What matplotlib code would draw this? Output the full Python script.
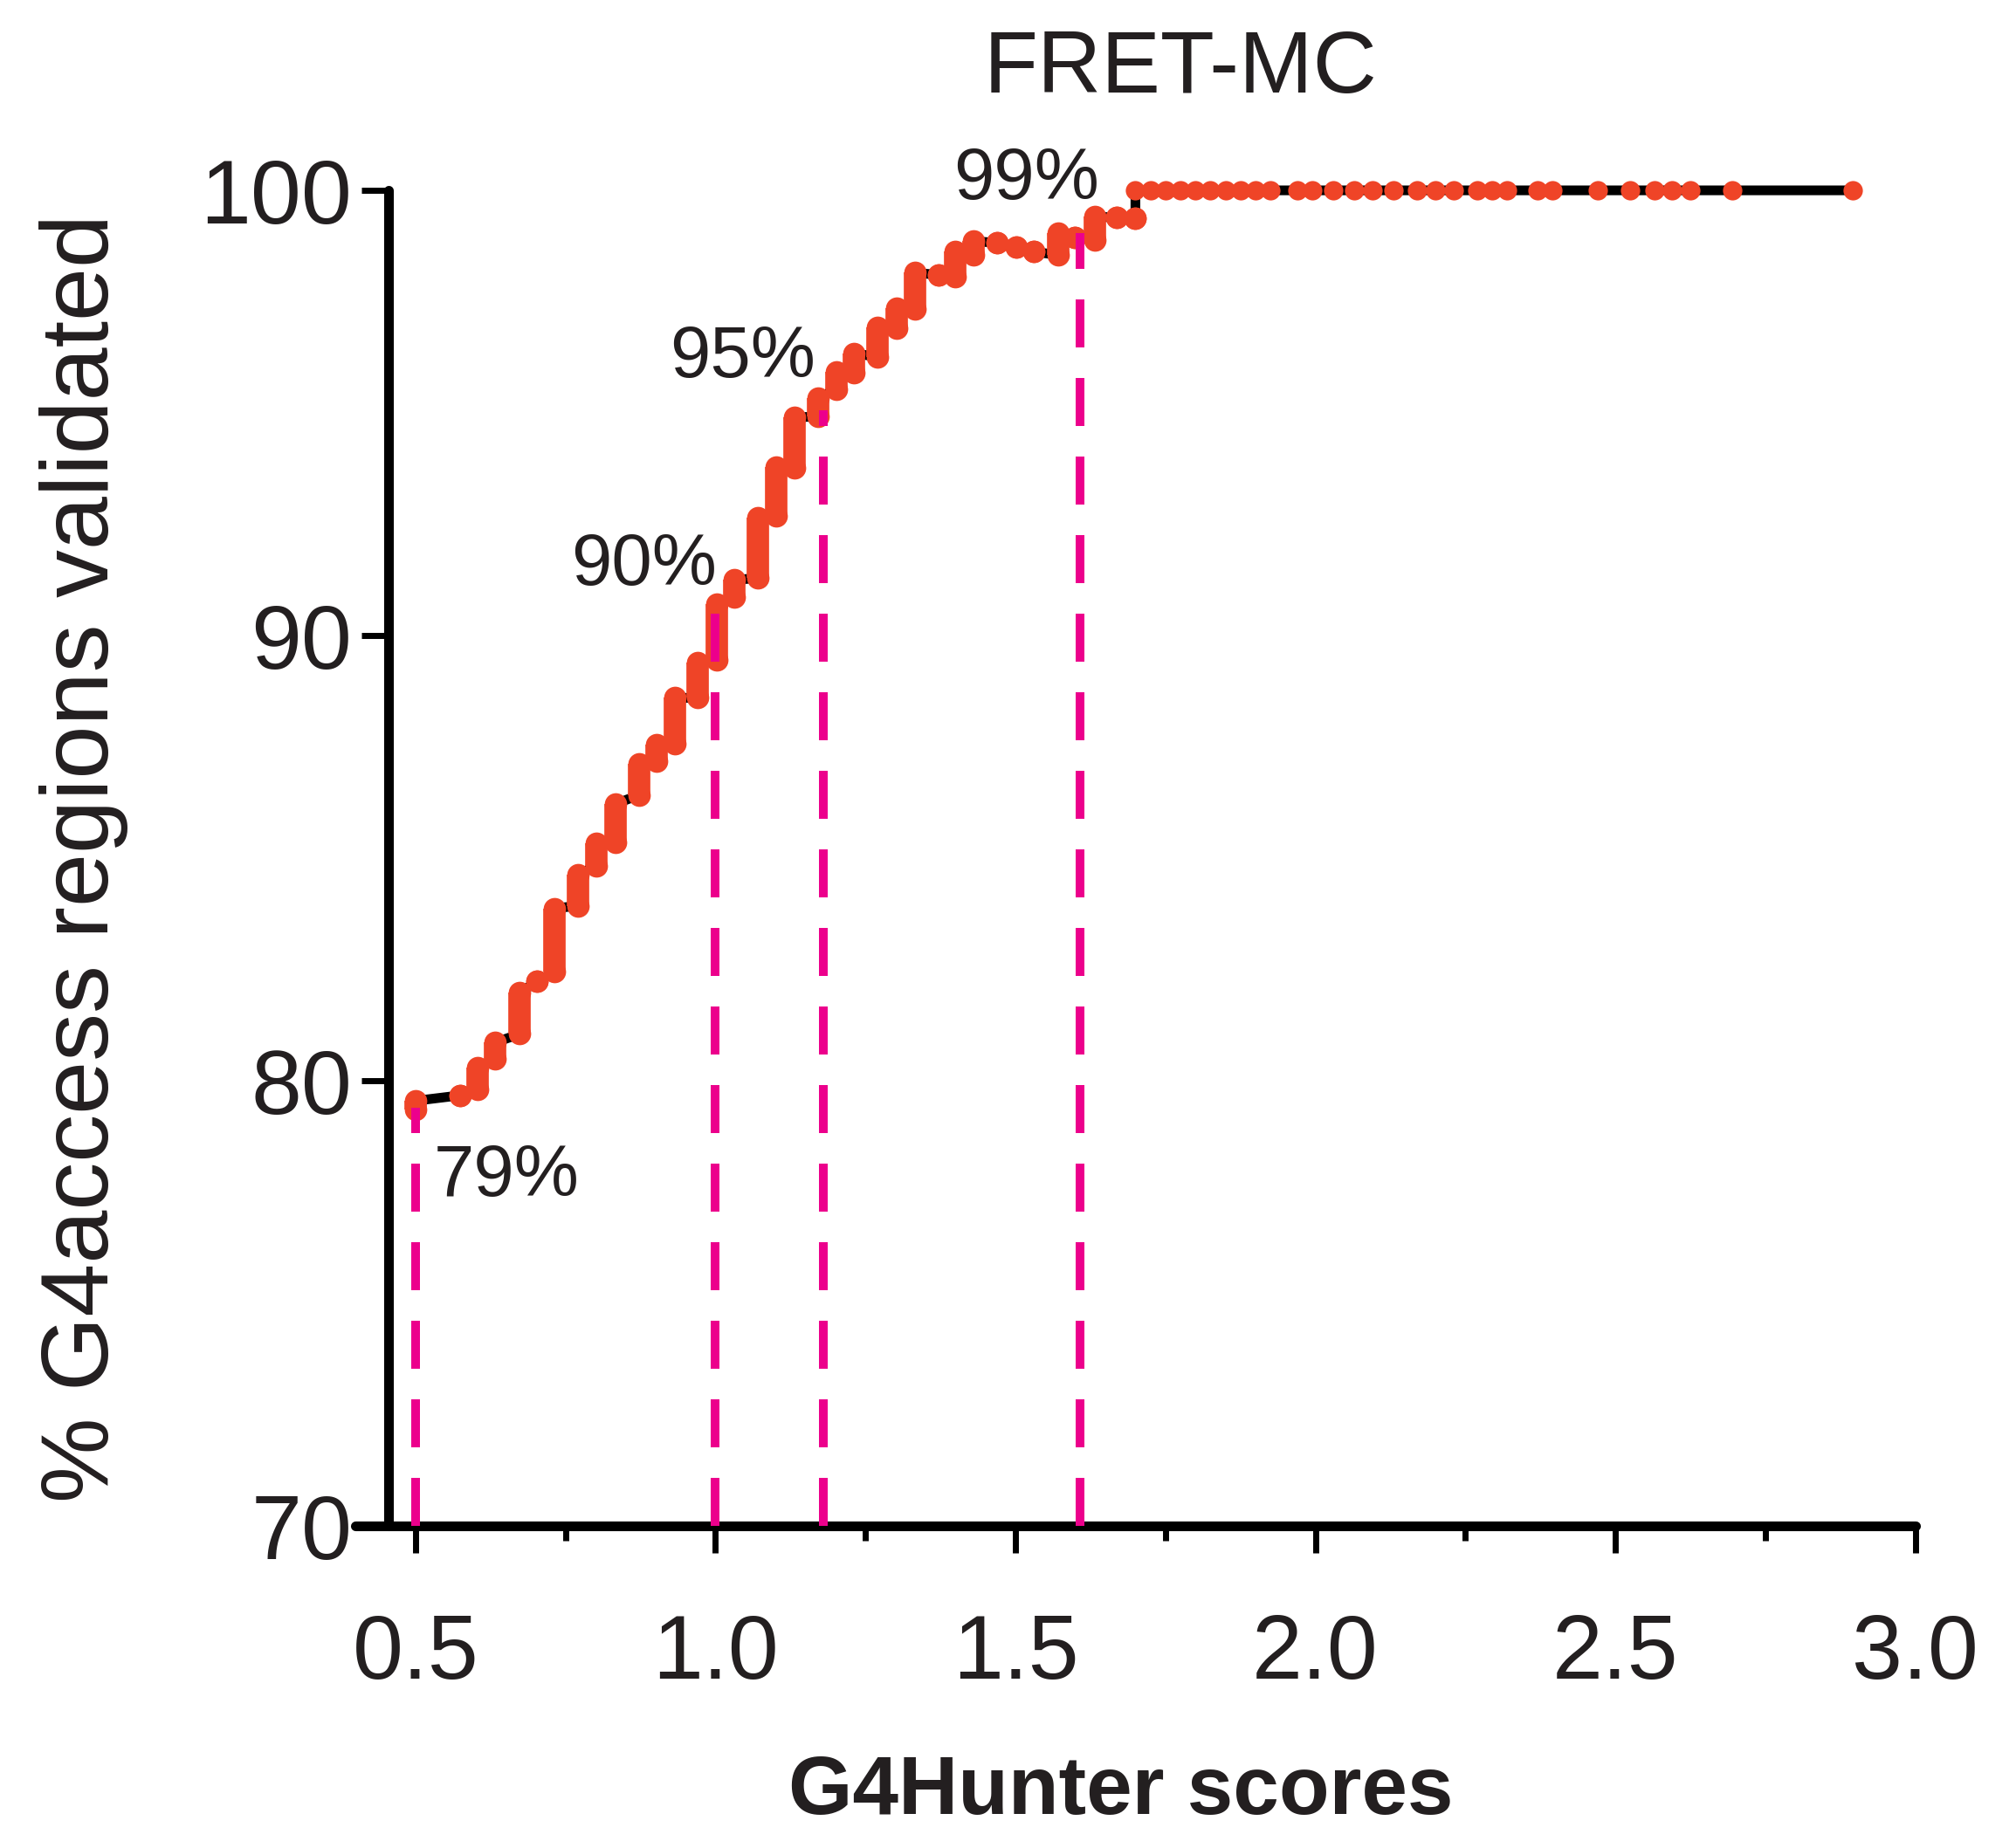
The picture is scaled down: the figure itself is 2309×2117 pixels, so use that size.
import matplotlib
matplotlib.use('Agg')
import matplotlib.pyplot as plt

plt.rcParams['font.family'] = ['Liberation Sans', 'DejaVu Sans']

# --- data ---
# each step: G4Hunter score, lowest and highest % of the vertical run of points
step_x = [0.501, 0.574, 0.604, 0.633, 0.674, 0.703, 0.732, 0.771, 0.802, 0.834,
          0.873, 0.902, 0.933, 0.970, 1.002, 1.032, 1.071, 1.101, 1.132, 1.171,
          1.201, 1.231, 1.270, 1.302, 1.333, 1.372, 1.399, 1.430, 1.469, 1.501,
          1.530, 1.571, 1.599, 1.632, 1.669, 1.700]
step_lo = [79.35, 79.67, 79.80, 80.49, 81.05, 82.23, 82.45, 83.93, 84.83, 85.36,
           86.42, 87.18, 87.56, 88.60, 89.46, 90.87, 91.29, 92.69, 93.77, 94.92,
           95.53, 95.90, 96.26, 96.91, 97.33, 98.10, 98.06, 98.55, 98.82, 98.72,
           98.62, 98.55, 98.95, 98.88, 99.39, 99.37]
step_hi = [79.55, 79.67, 80.29, 80.86, 81.98, 82.23, 83.87, 84.63, 85.34, 86.22,
           87.12, 87.54, 88.60, 89.39, 90.70, 91.25, 92.64, 93.79, 94.90, 95.33,
           95.92, 96.34, 96.93, 97.35, 98.15, 98.10, 98.63, 98.86, 98.82, 98.72,
           98.62, 99.04, 98.95, 99.41, 99.39, 99.37]

# scores where 100% is reached
plateau_x = [1.700, 1.725, 1.750, 1.775, 1.800, 1.825, 1.850, 1.875, 1.900, 1.925,
             1.970, 1.995, 2.030, 2.065, 2.095, 2.130, 2.170, 2.200, 2.230, 2.270,
             2.295, 2.320, 2.370, 2.395, 2.470, 2.525, 2.565, 2.595, 2.625, 2.695,
             2.895]
plateau_y = [100] * len(plateau_x)

# cut-off scores and the % reached there
cut_x = [0.5, 1.0, 1.18, 1.608]
cut_y = [79.4, 90.5, 95.05, 99.04]
cut_labels = ['79%', '90%', '95%', '99%']
label_x = [0.652, 0.881, 1.045, 1.519]
label_y = [77.84, 91.56, 96.24, 100.23]

x_ticks = [0.5, 1.0, 1.5, 2.0, 2.5, 3.0]
x_minor = [0.75, 1.25, 1.75, 2.25, 2.75]
y_ticks = [70, 80, 90, 100]

red = '#ef4427'
magenta = '#ec008c'
ink = '#231f20'

fig = plt.figure(figsize=(23.09, 21.17), dpi=100)
ax = fig.add_axes([0.1763, 0.1743, 0.7738, 0.7227])

# black connecting line through every point
line_x, line_y = [], []
for x, lo, hi in zip(step_x, step_lo, step_hi):
    line_x += [x, x]
    line_y += [lo, hi]
line_x += plateau_x
line_y += plateau_y
ax.plot(line_x, line_y, color='black', lw=8, zorder=2, clip_on=False,
        solid_joinstyle='round', solid_capstyle='round')

# red points (vertical runs drawn as solid bars)
dot = 18.5
ax.vlines(step_x, step_lo, step_hi, colors=red, lw=dot, zorder=3)
ax.plot(step_x, step_lo, 'o', color=red, ms=dot, mec='none', zorder=3, clip_on=False)
ax.plot(step_x, step_hi, 'o', color=red, ms=dot, mec='none', zorder=3, clip_on=False)
ax.plot(plateau_x, plateau_y, 'o', color=red, ms=dot - 2.5, mec='none', zorder=3, clip_on=False)

# magenta cut-off lines
ax.vlines(cut_x, 70, cut_y, colors=magenta, lw=7.2, linestyles=(0, (5.5, 3.5)), zorder=4)
for lx, ly, t in zip(label_x, label_y, cut_labels):
    ax.text(lx, ly, t, fontsize=60, color=ink, ha='center', va='center', zorder=5)

ax.set_xlim(0.4, 3.0)
ax.set_ylim(70, 100)

for side in ['top', 'right']:
    ax.spines[side].set_visible(False)
ax.spines['left'].set_position(('data', 0.455))
for side in ['left', 'bottom']:
    ax.spines[side].set_linewidth(8)
    ax.spines[side].set_capstyle('round')

ax.set_xticks(x_ticks)
ax.set_xticklabels([f'{v:.1f}' for v in x_ticks])
ax.set_xticks(x_minor, minor=True)
ax.set_yticks(y_ticks)
ax.tick_params(axis='both', which='major', direction='out', length=22, width=5,
               labelsize=75, colors='black', labelcolor=ink)
ax.tick_params(axis='x', which='major', pad=50)
ax.tick_params(axis='y', which='major', pad=8)
ax.tick_params(axis='x', which='minor', direction='out', length=12, width=5)

fig.text(0.5855, 0.962, 'FRET-MC', fontsize=73, color=ink, ha='center', va='center')
fig.text(0.0416, 0.5357, '% G4access regions validated', fontsize=79, color=ink,
         rotation=90, ha='center', va='center')
fig.text(0.556, 0.0298, 'G4Hunter scores', fontsize=68, fontweight='bold', color=ink,
         ha='center', va='center')

fig.savefig('out.png', dpi=100)
